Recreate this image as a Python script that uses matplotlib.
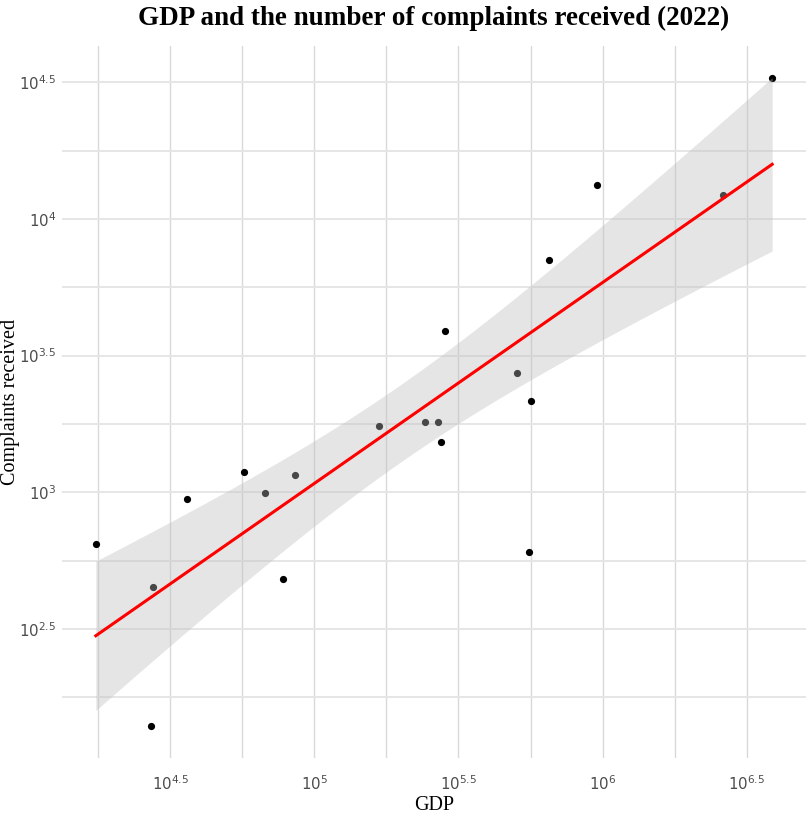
import numpy as np
import matplotlib
matplotlib.use("Agg")
import matplotlib.pyplot as plt
from matplotlib.ticker import FixedLocator

# GDP and complaints received per region, 2022
gdp = [17464, 27676, 36102, 56885, 67483, 85943, 77680, 27178, 167950, 3872600,
       956310, 2619100, 652070, 282820, 503840, 563500, 241800, 268300, 275490, 554500]
complaints = [648, 452, 946, 1188, 995, 1161, 482, 140, 1754, 32682,
              13270, 12271, 7057, 3903, 2725, 2152, 1803, 1803, 1532, 604]

x_tick_exps = [4.5, 5.0, 5.5, 6.0, 6.5]
x_minor_exps = [4.25, 4.75, 5.25, 5.75, 6.25]
y_tick_exps = [2.5, 3.0, 3.5, 4.0, 4.5]
y_minor_exps = [2.25, 2.75, 3.25, 3.75, 4.25]

T_975_DF18 = 2.100922  # t quantile for a 95% band, n - 2 = 18


def power_label(e):
    s = ("%g" % e)
    return r"$\mathregular{10^{%s}}$" % s


def fit_band(lx, ly, n_out=80):
    # ordinary least squares on log10 values, with 95% confidence band
    n = len(lx)
    b, a = np.polyfit(lx, ly, 1)
    resid = ly - (a + b * lx)
    s = np.sqrt(np.sum(resid ** 2) / (n - 2))
    sxx = np.sum((lx - lx.mean()) ** 2)
    x0 = np.linspace(lx.min(), lx.max(), n_out)
    y0 = a + b * x0
    se = s * np.sqrt(1.0 / n + (x0 - lx.mean()) ** 2 / sxx)
    return x0, y0, y0 - T_975_DF18 * se, y0 + T_975_DF18 * se


def main():
    plt.rcParams["mathtext.fontset"] = "custom"
    plt.rcParams["mathtext.rm"] = "Liberation Sans"
    plt.rcParams["mathtext.it"] = "Liberation Sans:italic"
    plt.rcParams["mathtext.bf"] = "Liberation Sans:bold"

    fig = plt.figure(figsize=(8.06, 8.15), dpi=100)
    ax = fig.add_axes([62 / 806, 1 - 758 / 815, 744 / 806, 712 / 815])

    lx = np.log10(np.array(gdp, dtype=float))
    ly = np.log10(np.array(complaints, dtype=float))
    x0, y0, lo, hi = fit_band(lx, ly)

    ax.set_xscale("log")
    ax.set_yscale("log")

    # points first, the band is laid over them like geom_smooth does
    ax.scatter(gdp, complaints, s=27, color="black", linewidths=0, zorder=2)
    ax.fill_between(10 ** x0, 10 ** lo, 10 ** hi, color="#BDBDBD", alpha=0.38,
                    linewidth=0, zorder=3)
    ax.plot(10 ** x0, 10 ** y0, color="red", lw=2.2, zorder=4)

    # 5% expansion of the data range on log scale
    xr = lx.max() - lx.min()
    yr = ly.max() - ly.min()
    ax.set_xlim(10 ** (lx.min() - 0.05 * xr), 10 ** (lx.max() + 0.05 * xr))
    ax.set_ylim(10 ** (ly.min() - 0.05 * yr), 10 ** (ly.max() + 0.05 * yr))

    ax.xaxis.set_major_locator(FixedLocator([10 ** e for e in x_tick_exps]))
    ax.xaxis.set_minor_locator(FixedLocator([10 ** e for e in x_minor_exps]))
    ax.yaxis.set_major_locator(FixedLocator([10 ** e for e in y_tick_exps]))
    ax.yaxis.set_minor_locator(FixedLocator([10 ** e for e in y_minor_exps]))
    ax.set_xticklabels([power_label(e) for e in x_tick_exps])
    ax.set_yticklabels([power_label(e) for e in y_tick_exps])
    ax.tick_params(which="both", length=0, labelsize=10.8, labelcolor="#4D4D4D")
    ax.tick_params(axis="x", pad=12)
    ax.tick_params(axis="y", pad=4)

    # minimal theme: no frame, light grid
    for sp in ax.spines.values():
        sp.set_visible(False)
    ax.xaxis.grid(True, which="both", color="#D9D9D9", lw=1.0, zorder=0)
    ax.yaxis.grid(True, which="both", color="#E6E6E6", lw=1.4, zorder=0)
    ax.set_axisbelow(True)

    ax.set_xlabel("GDP", family="Liberation Serif", fontsize=14.5)
    ax.xaxis.set_label_coords(0.5, -0.053)
    ax.set_ylabel("Complaints received", family="Liberation Serif", fontsize=14.5)
    ax.yaxis.set_label_coords(-0.057, 0.5)
    ax.set_title("GDP and the number of complaints received (2022)",
                 family="Liberation Serif", fontweight="bold", fontsize=19.5, pad=15)

    fig.savefig("out.png", dpi=100)


if __name__ == '__main__':
    main()
